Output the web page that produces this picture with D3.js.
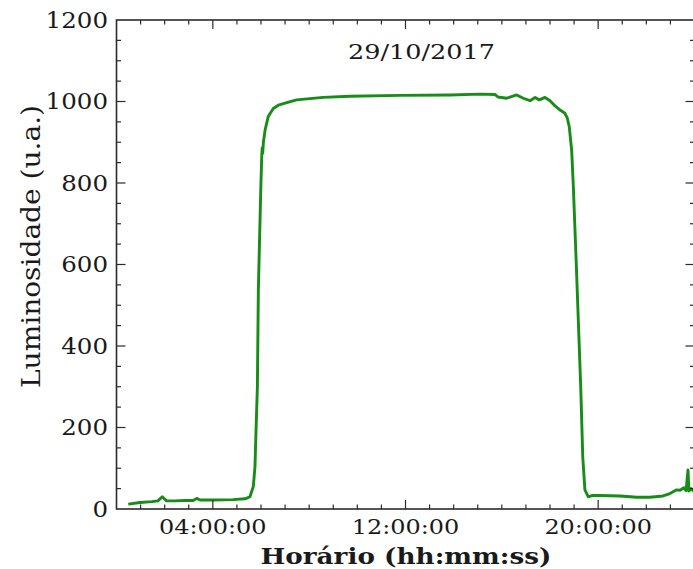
<!DOCTYPE html>
<html>
<head>
<meta charset="utf-8">
<script src="https://cdn.jsdelivr.net/npm/d3@7"></script>
<style>
  html, body { margin: 0; padding: 0; background: #fff; }
  svg { display: block; }
  text { font-family: "DejaVu Serif", serif; fill: #1a1a1a; }
</style>
</head>
<body>
<svg id="chart" width="693" height="569"></svg>
<script>
// Luminosity readings over one day (hours since midnight, arbitrary units)
const hours = [
  0.49, 0.98, 1.47, 1.72, 1.90, 2.08, 2.43, 2.84, 3.18, 3.33, 3.47, 4.09, 4.84,
  5.34, 5.54, 5.68, 5.75, 5.79, 5.85, 5.89, 5.99, 6.03, 6.05, 6.07, 6.10, 6.17,
  6.30, 6.51, 6.72, 7.07, 7.48, 8.58, 9.70, 11.77, 13.85, 15.09, 15.72, 15.84,
  16.20, 16.62, 16.89, 17.17, 17.38, 17.56, 17.79, 18.00, 18.21, 18.42, 18.62,
  18.72, 18.80, 18.90, 18.97, 19.08, 19.18, 19.28, 19.36, 19.45, 19.59, 19.74,
  20.08, 20.91, 21.60, 22.15, 22.69, 22.98, 23.26, 23.40, 23.56, 23.65, 23.73,
  23.77, 23.86, 24.00
];
const luminosity = [
  12, 16, 18, 20, 30, 20, 20, 21, 21, 26, 22, 22, 23,
  25, 30, 55, 104, 186, 300, 537, 783, 865, 886, 873, 900, 930,
  963, 983, 991, 997, 1004, 1010, 1013, 1015, 1016, 1018, 1017, 1011,
  1008, 1016, 1008, 1002, 1010, 1004, 1010, 1002, 989, 979, 971,
  959, 938, 880, 790, 619, 456, 292, 128, 47, 30, 33,
  33, 32, 29, 29, 32, 38, 47, 46, 52, 45, 96,
  44, 50, 42
];
const xMajorTicks = [4, 12, 20];
const xTickLabels = ["04:00:00", "12:00:00", "20:00:00"];
const xMinorTicks = d3.range(1, 24);
const yMajorTicks = [0, 200, 400, 600, 800, 1000, 1200];
const yMinorTicks = d3.range(50, 1200, 50);
const chartTitle = "29/10/2017";
const xTitle = "Horário (hh:mm:ss)";
const yTitle = "Luminosidade (u.a.)";

const svg = d3.select("#chart");
const plotLeft = 116.5, plotRight = 694.5, plotTop = 20, plotBottom = 509;

const x = d3.scaleLinear().domain([0, 24]).range([plotLeft, plotRight]);
const y = d3.scaleLinear().domain([0, 1200]).range([plotBottom, plotTop]);

const axisColor = "#2b2b2b";
const majorLen = 9, minorLen = 4.5;

// Widen glyphs horizontally by factor k
function widen(sel, k) {
  sel.each(function () {
    const w = this.getComputedTextLength();
    d3.select(this).attr("textLength", w * k).attr("lengthAdjust", "spacingAndGlyphs");
  });
}

// Data line
const line = d3.line().x((d, i) => x(hours[i])).y(d => y(d));
svg.append("path")
  .datum(luminosity)
  .attr("d", line)
  .attr("fill", "none")
  .attr("stroke", "#178c17")
  .attr("stroke-width", 2.9)
  .attr("stroke-linejoin", "round");

// Ticks pointing inward on all four sides
const tg = svg.append("g").attr("stroke", axisColor).attr("stroke-width", 1.2);
function xTicks(vals, len) {
  tg.selectAll(null).data(vals).enter().append("line")
    .attr("x1", d => x(d)).attr("x2", d => x(d))
    .attr("y1", plotBottom).attr("y2", plotBottom - len);
  tg.selectAll(null).data(vals).enter().append("line")
    .attr("x1", d => x(d)).attr("x2", d => x(d))
    .attr("y1", plotTop).attr("y2", plotTop + len);
}
function yTicks(vals, len) {
  tg.selectAll(null).data(vals).enter().append("line")
    .attr("y1", d => y(d)).attr("y2", d => y(d))
    .attr("x1", plotLeft).attr("x2", plotLeft + len);
  tg.selectAll(null).data(vals).enter().append("line")
    .attr("y1", d => y(d)).attr("y2", d => y(d))
    .attr("x1", plotRight).attr("x2", plotRight - len);
}
xTicks(xMinorTicks.filter(d => !xMajorTicks.includes(d)), minorLen);
xTicks(xMajorTicks, majorLen);
yTicks(yMinorTicks.filter(d => d % 200 !== 0), minorLen);
yTicks(yMajorTicks.filter(d => d > 0 && d < 1200), majorLen);

// Frame
svg.append("rect")
  .attr("x", plotLeft).attr("y", plotTop)
  .attr("width", plotRight - plotLeft).attr("height", plotBottom - plotTop)
  .attr("fill", "none").attr("stroke", axisColor).attr("stroke-width", 1.6);

// Tick labels
const yl = svg.append("g").selectAll("text").data(yMajorTicks).enter().append("text")
  .attr("x", plotLeft - 8.5).attr("y", d => y(d))
  .attr("dy", "0.36em")
  .attr("text-anchor", "end")
  .attr("font-size", 21.5)
  .text(d => d);
widen(yl, 1.14);

const xl = svg.append("g").selectAll("text").data(xMajorTicks).enter().append("text")
  .attr("x", d => x(d)).attr("y", 533.5)
  .attr("text-anchor", "middle")
  .attr("font-size", 21)
  .text((d, i) => xTickLabels[i]);
widen(xl, 1.14);

// Titles
svg.append("text")
  .attr("x", 421.5).attr("y", 59)
  .attr("text-anchor", "middle")
  .attr("font-size", 19.5)
  .attr("textLength", 147)
  .attr("lengthAdjust", "spacingAndGlyphs")
  .text(chartTitle);

svg.append("text")
  .attr("x", 406).attr("y", 563.5)
  .attr("text-anchor", "middle")
  .attr("font-size", 23)
  .attr("font-weight", "bold")
  .attr("textLength", 291)
  .attr("lengthAdjust", "spacingAndGlyphs")
  .text(xTitle);

svg.append("text")
  .attr("transform", "translate(40,246.5) rotate(-90)")
  .attr("text-anchor", "middle")
  .attr("font-size", 26)
  .attr("textLength", 283)
  .attr("lengthAdjust", "spacingAndGlyphs")
  .text(yTitle);
</script>
</body>
</html>
